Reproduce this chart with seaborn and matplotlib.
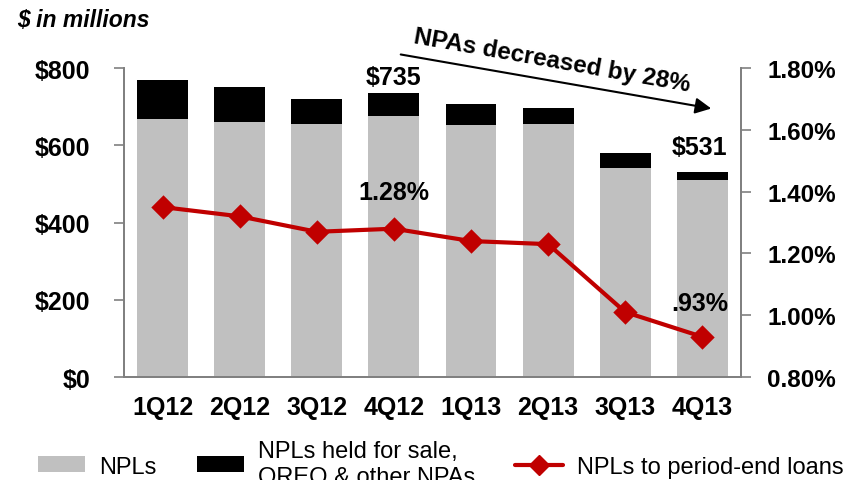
import matplotlib
matplotlib.use("Agg")
import matplotlib.pyplot as plt
import seaborn as sns
from matplotlib.patches import Patch, FancyArrowPatch
from matplotlib.lines import Line2D

# values ($ in millions, ratio in %)
quarters = ["1Q12", "2Q12", "3Q12", "4Q12", "1Q13", "2Q13", "3Q13", "4Q13"]
npls = [668, 659, 654, 676, 652, 654, 542, 509]
other_npas = [101, 93, 66, 59, 54, 42, 37, 22]
npl_ratio = [1.35, 1.32, 1.27, 1.28, 1.24, 1.23, 1.01, 0.93]
left_ticks = [0, 200, 400, 600, 800]
left_labels = ["$0", "$200", "$400", "$600", "$800"]
right_ticks = [0.8, 1.0, 1.2, 1.4, 1.6, 1.8]
right_labels = ["0.80%", "1.00%", "1.20%", "1.40%", "1.60%", "1.80%"]

totals = [a + b for a, b in zip(npls, other_npas)]

sns.set_style("white")
plt.rcParams["font.family"] = ["Liberation Sans", "DejaVu Sans"]
plt.rcParams["text.color"] = "black"
plt.rcParams["xtick.color"] = "black"
plt.rcParams["ytick.color"] = "black"

GRAY = "#C0C0C0"
RED = "#C00000"
SPINE = "#808080"
FS = 18

fig = plt.figure(figsize=(8.58, 4.81), dpi=100)
ax = fig.add_axes([0.1445, 0.2141, 0.7191, 0.6424])

sns.barplot(x=quarters, y=totals, color="black", width=0.66, saturation=1,
            linewidth=0, ax=ax)
sns.barplot(x=quarters, y=npls, color=GRAY, width=0.66, saturation=1,
            linewidth=0, ax=ax)
ax.set_ylim(0, 800)
ax.set_xlim(-0.5, 7.5)
ax.set_yticks(left_ticks)
ax.set_yticklabels(left_labels, fontsize=FS, fontweight="bold")
ax.set_xticks(range(len(quarters)))
ax.set_xticklabels(quarters, fontsize=FS, fontweight="bold")
ax.set_xticks([i - 0.5 for i in range(len(quarters) + 1)], minor=True)
ax.tick_params(axis="x", which="major", length=0, pad=13)
ax.tick_params(axis="x", which="minor", length=6, color=SPINE, width=1.2)
ax.tick_params(axis="y", length=7, color=SPINE, labelcolor="black", width=1.2,
               pad=17, left=True)
ax.set_xlabel("")
ax.set_ylabel("")

ax2 = ax.twinx()
sns.pointplot(x=quarters, y=npl_ratio, color=RED, markers="D", markersize=10,
              linewidth=3, ax=ax2)
ax2.set_ylim(0.8, 1.8)
ax2.set_xlim(-0.5, 7.5)
ax2.set_yticks(right_ticks)
ax2.set_yticklabels(right_labels, fontsize=17.5, fontweight="bold")
ax2.tick_params(axis="y", length=7, color=SPINE, labelcolor="black", width=1.2,
                pad=12, right=True)
ax2.set_ylabel("")

for a in (ax, ax2):
    a.spines["top"].set_visible(False)
    for s in ("left", "right", "bottom"):
        a.spines[s].set_color(SPINE)
        a.spines[s].set_linewidth(1.3)

# value labels
ax.annotate("$735", (3, totals[3]), xytext=(0, 3), textcoords="offset points",
            ha="center", va="bottom", fontsize=FS, fontweight="bold")
ax.annotate("$531", (7, totals[7]), xytext=(-2, 9), textcoords="offset points",
            ha="center", va="bottom", fontsize=FS, fontweight="bold")
ax2.annotate("1.28%", (3, npl_ratio[3]), xytext=(0, 18), textcoords="offset points",
             ha="center", va="bottom", fontsize=FS, fontweight="bold")
ax2.annotate(".93%", (7, npl_ratio[7]), xytext=(-2, 16), textcoords="offset points",
             ha="center", va="bottom", fontsize=FS, fontweight="bold")

fig.text(0.02, 0.958, "$ in millions", fontsize=16.5, fontweight="bold",
         fontstyle="italic", va="center", ha="left")

fig.add_artist(FancyArrowPatch(
    (398 / 858, 1 - 55 / 481), (714 / 858, 1 - 110 / 481),
    transform=fig.transFigure, arrowstyle="-|>", mutation_scale=24,
    color="black", linewidth=1.5))
fig.text(0.643, 0.873, "NPAs decreased by 28%", fontsize=17.5, fontweight="bold",
         rotation=-10, rotation_mode="anchor", ha="center", va="center")

handles = [
    Patch(facecolor=GRAY, edgecolor="none"),
    Patch(facecolor="black", edgecolor="none"),
    Line2D([0], [0], color=RED, linewidth=3, marker="D", markersize=10),
]
labels = ["NPLs", "NPLs held for sale,\nOREO & other NPAs", "NPLs to period-end loans"]
fig.legend(handles, labels, loc="center left", bbox_to_anchor=(0.044, 0.033),
           ncol=3, frameon=False, fontsize=17, handlelength=2.0,
           handleheight=0.65, handletextpad=0.6, columnspacing=1.7,
           borderpad=0, borderaxespad=0)

fig.savefig("out.png", dpi=100)
